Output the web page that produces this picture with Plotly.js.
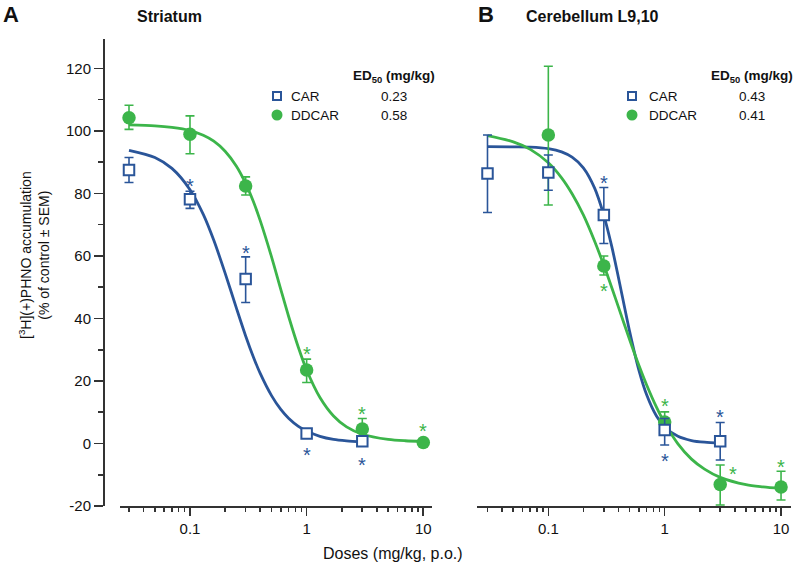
<!DOCTYPE html>
<html>
<head>
<meta charset="utf-8">
<script src="https://cdn.plot.ly/plotly-3.0.1.min.js"></script>
<style>html,body{margin:0;padding:0;background:#fff;}#chart{width:794px;height:567px;}</style>
</head>
<body>
<div id="chart"></div>
<script>
// ---------- data ----------
const doses = [0.03, 0.1, 0.3, 1, 3, 10];

// Panel A – Striatum
const aCarX = [0.03, 0.1, 0.3, 1, 3];
const aCarY = [87.5, 78.1, 52.6, 3.2, 0.7];
const aCarErrUp = [4.0, 2.6, 7.1, 1.0, 1.0];
const aCarErrDn = [4.0, 2.9, 7.5, 1.0, 1.0];
const aDdX = [0.03, 0.1, 0.3, 1, 3, 10];
const aDdY = [104.2, 98.9, 82.4, 23.5, 4.6, 0.3];
const aDdErrUp = [4.0, 5.9, 2.9, 3.5, 3.4, 0.5];
const aDdErrDn = [3.7, 6.2, 2.9, 4.0, 3.4, 0.5];

// Panel B – Cerebellum L9,10
const bCarX = [0.03, 0.1, 0.3, 1, 3];
const bCarY = [86.4, 86.7, 73.1, 4.3, 0.7];
const bCarErrUp = [12.3, 5.6, 8.8, 3.7, 6.0];
const bCarErrDn = [12.5, 5.7, 9.1, 4.8, 6.0];
const bDdX = [0.1, 0.3, 1, 3, 10];
const bDdY = [98.7, 56.8, 6.9, -13.1, -13.9];
const bDdErrUp = [22.0, 3.2, 3.2, 6.2, 5.0];
const bDdErrDn = [22.4, 2.9, 3.0, 6.6, 4.2];

// Fitted curves
const curveXCar = [0.03,0.05,0.07,0.1,0.13,0.16,0.2,0.25,0.3,0.35,0.4,0.5,0.6,0.7,0.85,1,1.3,1.7,2.2,3];
const curveXDd  = [0.03,0.05,0.07,0.1,0.13,0.16,0.2,0.25,0.3,0.35,0.4,0.5,0.6,0.7,0.85,1,1.3,1.7,2.2,3,5,7,10];
const aCarCurve = [93.8,91.5,88.0,81.2,73.3,65.0,54.5,43.3,34.4,27.6,22.4,15.3,10.9,8.1,5.5,4.0,2.3,1.3,0.8,0.4];
const aDdCurve  = [101.9,101.6,101.1,100.1,98.6,96.7,93.5,88.7,83.2,77.3,71.3,59.7,49.3,40.7,30.7,23.5,14.7,8.8,5.3,2.95,1.3,0.87,0.67];
const bCarCurve = [95.0,94.9,94.8,94.3,93.3,91.6,88.2,81.7,73.0,63.2,53.2,35.8,23.5,15.6,8.8,5.3,2.3,0.95,0.4,0.14];
const bDdCurve  = [98.5,96.5,94.1,89.8,85.0,79.9,73.1,64.7,57.0,50.0,43.7,33.2,25.0,18.7,11.6,6.5,-0.1,-5.0,-8.2,-10.85,-13.2,-13.9,-14.4];

// Significance asterisks
const aCarStarX = [0.1, 0.3, 1, 3],        aCarStarY = [83.9, 62.4, -2.1, -5.6];
const aDdStarX  = [1, 3, 10],              aDdStarY  = [30.2, 10.9, 5.3];
const bCarStarX = [0.3, 1, 3],             bCarStarY = [84.8, -4.3, 9.8];
const bDdStarX  = [0.3, 1, 3.85, 10],      bDdStarY  = [50.3, 13.3, -8.2, -6.2];

// Legend / ED50 table
const seriesNames = ['CAR', 'DDCAR'];
const ed50A = ['0.23', '0.58'];
const ed50B = ['0.43', '0.41'];

// Axis ticks
const xTickVals = [0.1, 1, 10];
const xTickText = ['0.1', '1', '10'];
const xMinorTicks = [0.03,0.04,0.05,0.06,0.07,0.08,0.09,0.2,0.3,0.4,0.5,0.6,0.7,0.8,0.9,2,3,4,5,6,7,8,9];
const yTickVals = [-20, 0, 20, 40, 60, 80, 100, 120];
const yTickText = ['-20', '0', '20', '40', '60', '80', '100', '120'];

// ---------- styling ----------
const BLUE = '#2a5599', GREEN = '#3cb54a', AX = '#333333';
const FONT = 'Liberation Sans, Arial, Helvetica, sans-serif';
const W = 794, H = 567;
const px = v => v / W, py = v => 1 - v / H;

function curve(x, y, color, xa, ya) {
  return {x, y, xaxis: xa, yaxis: ya, mode: 'lines', type: 'scatter', hoverinfo: 'skip',
    line: {color, width: 2.8, shape: 'spline', smoothing: 0.8}};
}
function pts(x, y, up, dn, color, sym, xa, ya) {
  const open = sym === 'square';
  return {x, y, xaxis: xa, yaxis: ya, mode: 'markers', type: 'scatter', cliponaxis: false,
    marker: open ? {symbol: 'square', size: 10.5, color: '#ffffff', line: {color, width: 2}}
                 : {symbol: 'circle', size: 13.5, color, line: {width: 0}},
    error_y: {type: 'data', symmetric: false, array: up, arrayminus: dn, color, thickness: 1.6, width: 4.5}};
}

const data = [
  curve(curveXCar, aCarCurve, BLUE, 'x', 'y'),
  curve(curveXDd, aDdCurve, GREEN, 'x', 'y'),
  pts(aDdX, aDdY, aDdErrUp, aDdErrDn, GREEN, 'circle', 'x', 'y'),
  pts(aCarX, aCarY, aCarErrUp, aCarErrDn, BLUE, 'square', 'x', 'y'),
  curve(curveXCar, bCarCurve, BLUE, 'x2', 'y2'),
  curve(curveXDd, bDdCurve, GREEN, 'x2', 'y2'),
  pts(bDdX, bDdY, bDdErrUp, bDdErrDn, GREEN, 'circle', 'x2', 'y2'),
  pts(bCarX, bCarY, bCarErrUp, bCarErrDn, BLUE, 'square', 'x2', 'y2')
];

const yDomain = [(H - 506) / H, (H - 39) / H];
const yRange = [-20, 129.4];

function xAxis(domain, range, anchor) {
  return {type: 'log', domain, range, anchor, showline: true, linecolor: AX, linewidth: 2,
    ticks: 'outside', ticklen: 8, tickwidth: 1.6, tickcolor: AX,
    tickmode: 'array', tickvals: xTickVals, ticktext: xTickText,
    tickfont: {size: 15, color: '#111', family: FONT}, showgrid: false, zeroline: false,
    minor: {tickmode: 'array', tickvals: xMinorTicks, ticks: 'outside', ticklen: 4, tickwidth: 1.6, tickcolor: AX, showgrid: false}};
}

const annotations = [];
function stars(xs, ys, color, xref, yref) {
  xs.forEach((x, i) => annotations.push({xref, yref, x: Math.log10(x), y: ys[i], text: '*',
    showarrow: false, yshift: -4.5, font: {size: 20, color, family: FONT}}));
}
stars(aCarStarX, aCarStarY, BLUE, 'x', 'y');
stars(aDdStarX, aDdStarY, GREEN, 'x', 'y');
stars(bCarStarX, bCarStarY, BLUE, 'x2', 'y2');
stars(bDdStarX, bDdStarY, GREEN, 'x2', 'y2');

function txt(text, x, y, size, opts) {
  annotations.push(Object.assign({xref: 'paper', yref: 'paper', x: px(x), y: py(y), text,
    showarrow: false, xanchor: 'center', yanchor: 'middle',
    font: {size, color: '#111', family: FONT}}, opts || {}));
}
// Panel letters and titles
txt('<b>A</b>', 1, 14.5, 22, {xanchor: 'left'});
txt('<b>Striatum</b>', 135, 17, 16, {xanchor: 'left'});
txt('<b>B</b>', 476, 14.5, 22, {xanchor: 'left'});
txt('<b>Cerebellum L9,10</b>', 524, 17, 16, {xanchor: 'left'});
// Axis titles
txt('[<sup>3</sup>H](+)PHNO accumulation<br>(% of control ± SEM)', 34, 255, 14, {textangle: -90});
txt('Doses (mg/kg, p.o.)', 392.5, 553, 16);

// Legends with ED50 table
const shapes = [];
function legend(iconX, textX, tableX, ed) {
  txt('<b>ED<sub>50</sub> (mg/kg)</b>', tableX, 76.5, 13.5);
  const rows = [96, 115];
  seriesNames.forEach((n, i) => {
    txt(n, textX, rows[i], 13.5, {xanchor: 'left'});
    txt(ed[i], tableX, rows[i], 13.5);
  });
  shapes.push({type: 'rect', xref: 'paper', yref: 'paper', x0: px(iconX - 4), x1: px(iconX + 4),
    y0: py(rows[0] + 4), y1: py(rows[0] - 4), line: {color: BLUE, width: 2}, fillcolor: '#fff'});
  shapes.push({type: 'circle', xref: 'paper', yref: 'paper', x0: px(iconX - 5.5), x1: px(iconX + 5.5),
    y0: py(rows[1] + 5.5), y1: py(rows[1] - 5.5), line: {width: 0}, fillcolor: GREEN});
}
legend(277, 289, 393.5, ed50A);
legend(632, 647, 752, ed50B);

const layout = {
  width: W, height: H, margin: {l: 0, r: 0, t: 0, b: 0},
  paper_bgcolor: '#fff', plot_bgcolor: 'rgba(0,0,0,0)', showlegend: false,
  font: {family: FONT, color: '#111'},
  xaxis: xAxis([120 / W, 432 / W], [-1.6, 1.0746], 'y'),
  xaxis2: xAxis([477 / W, 790.7 / W], [-1.613, 1.083], 'y2'),
  yaxis: {domain: yDomain, range: yRange, anchor: 'free', position: 104 / W,
    showline: true, linecolor: AX, linewidth: 2, ticks: 'outside', ticklen: 9, tickwidth: 1.6, tickcolor: AX,
    tickmode: 'array', tickvals: yTickVals, ticktext: yTickText,
    tickfont: {size: 15, color: '#111', family: FONT},
    showgrid: false, zeroline: false,
    minor: {tick0: 0, dtick: 10, ticks: 'outside', ticklen: 5, tickwidth: 1.6, tickcolor: AX, showgrid: false}},
  yaxis2: {domain: yDomain, range: yRange, anchor: 'x2', visible: false},
  annotations, shapes
};

Plotly.newPlot('chart', data, layout, {staticPlot: true, displayModeBar: false});
</script>
</body>
</html>
